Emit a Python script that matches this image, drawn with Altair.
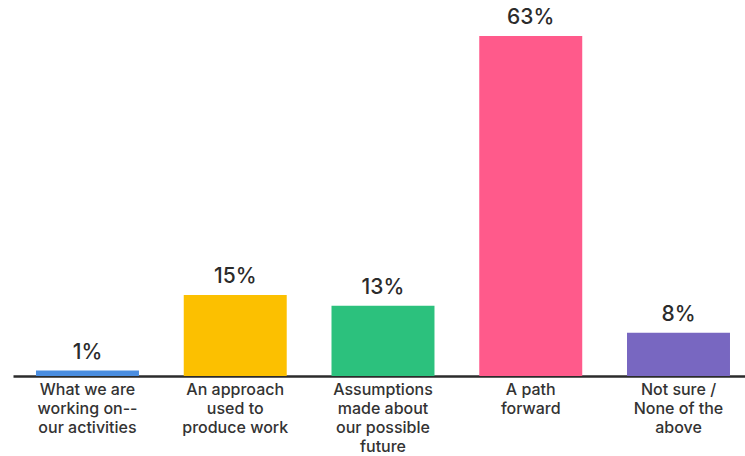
import altair as alt
import pandas as pd

categories = [
    "What we are|working on--|our activities",
    "An approach|used to|produce work",
    "Assumptions|made about|our possible|future",
    "A path|forward",
    "Not sure /|None of the|above",
]
values = [1, 15, 13, 63, 8]
labels = ["1%", "15%", "13%", "63%", "8%"]
colors = ["#4a8de0", "#fcc000", "#2cc17d", "#ff5a8b", "#7867c1"]

df = pd.DataFrame({"cat": categories, "value": values, "label": labels, "color": colors})

x = alt.X(
    "cat:N",
    sort=categories,
    title=None,
    scale=alt.Scale(paddingInner=0.303, paddingOuter=0.1286, align=0.605),
    axis=alt.Axis(
        labelAngle=0,
        labelExpr="split(datum.label, '|')",
        labelFont="Inter",
        labelFontSize=16,
        labelFontWeight=500,
        labelColor="#333333",
        labelLineHeight=19,
        labelPadding=5,
        labelBaseline="top",
        ticks=False,
        domainColor="#2b2b2b",
        domainWidth=2.5,
        grid=False,
    ),
)
y = alt.Y("value:Q", scale=alt.Scale(domain=[0, 63], nice=False), axis=None)

bars = alt.Chart(df).mark_bar().encode(
    x=x, y=y, color=alt.Color("color:N", scale=None)
)
text = alt.Chart(df).mark_text(
    dy=-8, baseline="bottom", font="Inter", fontSize=21, fontWeight=500, color="#2b2b2b"
).encode(x=alt.X("cat:N", sort=categories), y="value:Q", text="label:N")

chart = (
    alt.layer(bars, text)
    .properties(
        width=732,
        height=340,
        background="white",
        padding={"left": 13, "top": 36, "right": 0, "bottom": 80},
        autosize=alt.AutoSizeParams(type="none"),
    )
    .configure_view(strokeWidth=0, stroke="transparent")
)

chart.save("out.html", embed_options={"renderer": "svg", "actions": False})
